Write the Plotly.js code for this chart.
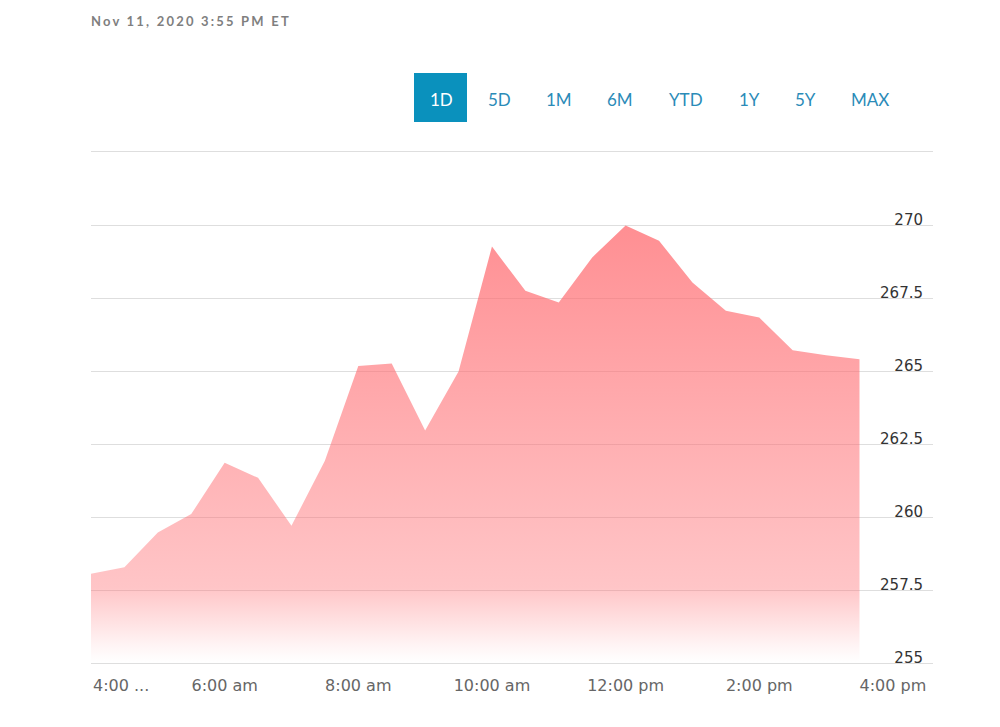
<!DOCTYPE html>
<html>
<head>
<meta charset="utf-8">
<script src="https://cdn.plot.ly/plotly-3.0.1.min.js"></script>
<style>
  html, body { margin: 0; padding: 0; background: #fff; }
  #chart { width: 1000px; height: 727px; }
  #chart .gtitle { letter-spacing: 2.2px; }
</style>
</head>
<body>
<div id="chart"></div>
<script>
// ---- data ----
const times = [
  "2020-11-11 04:00", "2020-11-11 04:30", "2020-11-11 05:00", "2020-11-11 05:30",
  "2020-11-11 06:00", "2020-11-11 06:30", "2020-11-11 07:00", "2020-11-11 07:30",
  "2020-11-11 08:00", "2020-11-11 08:30", "2020-11-11 09:00", "2020-11-11 09:30",
  "2020-11-11 10:00", "2020-11-11 10:30", "2020-11-11 11:00", "2020-11-11 11:30",
  "2020-11-11 12:00", "2020-11-11 12:30", "2020-11-11 13:00", "2020-11-11 13:30",
  "2020-11-11 14:00", "2020-11-11 14:30", "2020-11-11 15:00", "2020-11-11 15:30"
];
const prices = [
  258.06, 258.28, 259.47, 260.10,
  261.86, 261.34, 259.70, 261.93,
  265.17, 265.26, 262.96, 264.98,
  269.26, 267.75, 267.35, 268.89,
  269.98, 269.46, 268.03, 267.06,
  266.83, 265.71, 265.54, 265.40
];
const xTickVals = ["2020-11-11 04:00", "2020-11-11 06:00", "2020-11-11 08:00", "2020-11-11 10:00",
                   "2020-11-11 12:00", "2020-11-11 14:00", "2020-11-11 16:00"];
const xTickText = ["4:00 ...", "6:00 am", "8:00 am", "10:00 am", "12:00 pm", "2:00 pm", "4:00 pm"];
const yTickVals = [255, 257.5, 260, 262.5, 265, 267.5, 270];
const yTickText = ["255", "257.5", "260", "262.5", "265", "267.5", "270"];
const ranges = ["1D", "5D", "1M", "6M", "YTD", "1Y", "5Y", "MAX"];
const titleText = "Nov 11, 2020 3:55 PM ET";
const xRange = ["2020-11-11 04:00", "2020-11-11 16:36"];
const yRange = [255, 272.5];

// ---- figure ----
const trace = {
  x: times,
  y: prices,
  type: "scatter",
  mode: "lines",
  line: { width: 0, color: "rgba(255,120,125,0)" },
  fill: "tozeroy",
  fillgradient: {
    type: "vertical",
    start: 255,
    stop: 270,
    colorscale: [
      [0, "rgba(255,110,115,0)"],
      [0.04, "rgba(255,110,115,0.08)"],
      [0.17, "rgba(255,110,115,0.40)"],
      [1, "rgba(255,105,110,0.75)"]
    ]
  },
  hoverinfo: "x+y"
};

const L = 91, R = 933, T = 152, B = 663, W = 1000, H = 727;
const px2x = p => (p - L) / (R - L);
const px2y = p => (B - p) / (B - T);

const btnCenters = [441, 499, 559, 620, 686, 749, 805, 870];
const annotations = ranges.map((r, i) => ({
  text: r,
  xref: "paper", yref: "paper",
  x: px2x(btnCenters[i]), y: px2y(99),
  xanchor: "center", yanchor: "middle",
  showarrow: false,
  font: { family: "Lato, 'Open Sans', sans-serif", size: 17, color: i === 0 ? "#ffffff" : "#2b8bb8" }
}));

const tickFont = "DejaVu Sans";

const layout = {
  width: W, height: H,
  margin: { l: L, r: W - R, t: T, b: H - B, pad: 0 },
  paper_bgcolor: "#ffffff",
  plot_bgcolor: "#ffffff",
  showlegend: false,
  title: {
    text: titleText,
    xref: "container", yref: "container",
    x: L / W, y: 1 - 21 / H,
    xanchor: "left", yanchor: "middle",
    font: { family: "Lato, 'Open Sans', sans-serif", size: 13, color: "#7f7f7f", weight: "bold" }
  },
  xaxis: {
    type: "date",
    range: xRange,
    tickvals: xTickVals,
    ticktext: xTickText,
    showgrid: false,
    zeroline: false,
    showline: true,
    mirror: true,
    linecolor: "#dedede",
    linewidth: 1,
    ticks: "outside",
    ticklen: 8,
    tickcolor: "rgba(0,0,0,0)",
    tickfont: { family: tickFont, size: 16, color: "#666666" },
    fixedrange: true
  },
  yaxis: {
    range: yRange,
    side: "left",
    anchor: "free",
    position: 1,
    tickvals: yTickVals,
    ticktext: yTickText,
    ticklabelshift: -5,
    ticklabelstandoff: 10,
    showgrid: true,
    gridcolor: "#dedede",
    gridwidth: 1,
    zeroline: false,
    showline: false,
    ticks: "",
    tickfont: { family: tickFont, size: 15, color: "#333333" },
    fixedrange: true
  },
  shapes: [{
    type: "rect", xref: "paper", yref: "paper",
    x0: px2x(414), x1: px2x(467), y0: px2y(122), y1: px2y(73),
    fillcolor: "#0a91bd", line: { width: 0 }, layer: "below"
  }],
  annotations: annotations
};

Plotly.newPlot("chart", [trace], layout, { displayModeBar: false }).then(gd => {
  // left-align the first (truncated) time label, as in the source widget
  const first = gd.querySelector(".xaxislayer-above .xtick text");
  if (first) {
    first.setAttribute("text-anchor", "start");
    first.setAttribute("x", String(parseFloat(first.getAttribute("x") || "0") + 2));
  }
});
</script>
</body>
</html>
